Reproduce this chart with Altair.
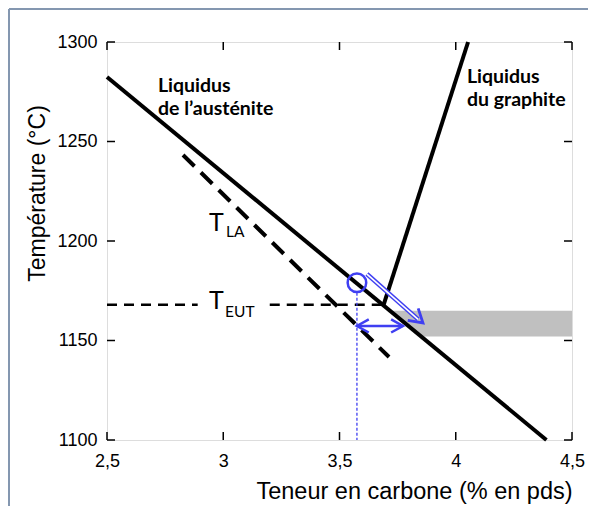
import altair as alt
import pandas as pd

W, H = 465, 398

# ---- data ----
x_ticks = [2.5, 3.0, 3.5, 4.0, 4.5]
y_ticks = [1100, 1150, 1200, 1250, 1300]

aus_x = [2.5, 4.39]          # liquidus de l'austénite
aus_y = [1282.4, 1100.0]
gra_x = [3.69, 4.053]        # liquidus du graphite
gra_y = [1168.0, 1300.0]
tla_x = [2.827, 3.713]       # T_LA dashed line
tla_y = [1243.2, 1141.7]
teut_seg1 = [2.5, 2.89]      # T_EUT dashed line, left part
teut_seg2 = [3.2, 3.69]      # T_EUT dashed line, right part
teut_y = 1168.0

band_y = [1152.0, 1165.0]    # grey band (right of the liquidus)
band_xl = [3.851, 3.716]
band_xr = [4.5, 4.5]

circ_x, circ_y = 3.575, 1179.0
vdot_x = [3.575, 3.575]
vdot_y = [1174.0, 1100.0]
diag_x = [3.618, 3.838]
diag_y = [1183.4, 1160.6]
diag_tip = (3.859, 1158.8)
harr_x = [3.575, 3.773]
harr_y = 1157.3

blue = "#3f3ff2"

xs = alt.Scale(domain=[2.5, 4.5], nice=False, zero=False)
ys = alt.Scale(domain=[1100, 1300], nice=False, zero=False)
label_expr = "replace(toString(datum.value), '.', ',')"
xaxis = alt.Axis(values=x_ticks, labelExpr=label_expr, title="Teneur en carbone (% en pds)",
                 domain=False, ticks=False, grid=False, labelFont="Liberation Sans",
                 labelFontSize=18, labelColor="black", labelPadding=12,
                 titleFont="Liberation Sans", titleFontSize=23.5, titleFontWeight="normal",
                 titleColor="black", titleX=307, titleY=58, titleBaseline="alphabetic",
                 titleAlign="center", labelFlush=False)
yaxis = alt.Axis(values=y_ticks, labelExpr="toString(datum.value)", title="Température (°C)",
                 domain=False, ticks=False,
                 grid=False, labelFont="Liberation Sans", labelFontSize=18,
                 labelColor="black", labelPadding=10, titleFont="Liberation Sans",
                 titleFontSize=23, titleFontWeight="normal", titleColor="black",
                 titleX=-70, titleY=151, titleBaseline="middle", titleAlign="center",
                 titleAngle=-90, labelFlush=False)


def X(f):
    return alt.X(f, type="quantitative", scale=xs, axis=xaxis)


def Y(f):
    return alt.Y(f, type="quantitative", scale=ys, axis=yaxis)


def line_df(xv, yv):
    return pd.DataFrame({"x": xv, "y": yv, "o": list(range(len(xv)))})


band = alt.Chart(pd.DataFrame({"y": band_y, "x": band_xl, "x2": band_xr})).mark_area(
    orient="horizontal", color="#c0c0c0").encode(y=Y("y"), x=X("x"), x2="x2")

aus = alt.Chart(line_df(aus_x, aus_y)).mark_line(color="black", strokeWidth=4).encode(
    x=X("x"), y=Y("y"), order="o")
gra = alt.Chart(line_df(gra_x, gra_y)).mark_line(color="black", strokeWidth=4).encode(
    x=X("x"), y=Y("y"), order="o")
tla = alt.Chart(line_df(tla_x, tla_y)).mark_line(color="black", strokeWidth=4,
                                                 strokeDash=[16, 9]).encode(
    x=X("x"), y=Y("y"), order="o")
teut1 = alt.Chart(line_df(teut_seg1, [teut_y, teut_y])).mark_line(
    color="black", strokeWidth=2.5, strokeDash=[10, 7]).encode(x=X("x"), y=Y("y"), order="o")
teut2 = alt.Chart(line_df(teut_seg2, [teut_y, teut_y])).mark_line(
    color="black", strokeWidth=2.5, strokeDash=[10, 7]).encode(x=X("x"), y=Y("y"), order="o")

vdot = alt.Chart(line_df(vdot_x, vdot_y)).mark_line(color=blue, strokeWidth=1.3,
                                                    strokeDash=[3, 2]).encode(
    x=X("x"), y=Y("y"), order="o")
circle = alt.Chart(pd.DataFrame({"x": [circ_x], "y": [circ_y]})).mark_point(
    shape="circle", size=345, filled=False, color=blue, strokeWidth=2.5, opacity=1).encode(
    x=X("x"), y=Y("y"))
diag_outer = alt.Chart(line_df(diag_x, diag_y)).mark_line(color=blue, strokeWidth=4.5).encode(
    x=X("x"), y=Y("y"), order="o")
diag_inner = alt.Chart(line_df(diag_x, diag_y)).mark_line(color="white", strokeWidth=1.6).encode(
    x=X("x"), y=Y("y"), order="o")
diag_head = alt.Chart(pd.DataFrame({"x": [diag_tip[0]], "y": [diag_tip[1]]})).mark_point(
    shape="M-1,-0.6L0,0L-1,0.6", size=700, angle=41, filled=False, color=blue,
    strokeWidth=2.8, opacity=1).encode(x=X("x"), y=Y("y"))
harr = alt.Chart(line_df(harr_x, [harr_y, harr_y])).mark_line(color=blue, strokeWidth=2.5).encode(
    x=X("x"), y=Y("y"), order="o")
harr_heads = alt.Chart(pd.DataFrame({"x": harr_x, "y": [harr_y, harr_y], "a": [180, 0]})).mark_point(
    shape="M-1,-0.55L0,0L-1,0.55", size=560, filled=False, color=blue,
    strokeWidth=2.5, opacity=1).encode(x=X("x"), y=Y("y"), angle=alt.Angle("a:Q", scale=None))

labels_bold = pd.DataFrame({
    "x": [2.719, 2.719, 4.048, 4.048],
    "y": [1274.9, 1263.3, 1279.4, 1267.8],
    "t": ["Liquidus", "de l\u2019austénite", "Liquidus", "du graphite"],
})
txt_bold = alt.Chart(labels_bold).mark_text(font="Lato", fontWeight="bold", fontSize=19.5,
                                            align="left", baseline="alphabetic",
                                            color="black").encode(x=X("x"), y=Y("y"), text="t")
big_T = pd.DataFrame({"x": [2.939, 2.939], "y": [1205.0, 1165.8], "t": ["T", "T"]})
txt_T = alt.Chart(big_T).mark_text(font="Lato", fontSize=25, align="left",
                                   baseline="alphabetic", color="black").encode(
    x=X("x"), y=Y("y"), text="t")
subs = pd.DataFrame({"x": [3.012, 3.008], "y": [1202.0, 1161.8], "t": ["LA", "EUT"]})
txt_sub = alt.Chart(subs).mark_text(font="Lato", fontSize=15.5, align="left",
                                    baseline="alphabetic", color="black").encode(
    x=X("x"), y=Y("y"), text="t")

# inward ticks on all four sides
xt = pd.DataFrame({"v": x_ticks})
yt = pd.DataFrame({"v": y_ticks})
tk = dict(color="black", strokeWidth=1.5)
t_bottom = alt.Chart(xt).mark_rule(**tk).encode(x=X("v"), y=alt.value(H), y2=alt.value(H - 8))
t_top = alt.Chart(xt).mark_rule(**tk).encode(x=X("v"), y=alt.value(0), y2=alt.value(8))
t_left = alt.Chart(yt).mark_rule(**tk).encode(y=Y("v"), x=alt.value(0), x2=alt.value(8))
t_right = alt.Chart(yt).mark_rule(**tk).encode(y=Y("v"), x=alt.value(W), x2=alt.value(W - 8))

# outer frame of the figure (left and top edges)
frame_l = alt.Chart(xt).mark_rule(color="#8497b0", strokeWidth=2).encode(
    x=alt.value(-98), y=alt.value(-33), y2=alt.value(H + 70))
frame_t = alt.Chart(xt).mark_rule(color="#8497b0", strokeWidth=2).encode(
    y=alt.value(-33), x=alt.value(-98), x2=alt.value(W + 20))

chart = alt.layer(
    band, aus, gra, tla, teut1, teut2, vdot, diag_outer, diag_inner, diag_head,
    harr, harr_heads, circle, txt_bold, txt_T, txt_sub,
    t_bottom, t_top, t_left, t_right, frame_l, frame_t,
).properties(
    width=W, height=H,
    autosize=alt.AutoSizeParams(type="none"),
    padding={"left": 99, "top": 34, "right": 16, "bottom": 66},
).configure_view(stroke="black", strokeWidth=1.5).configure(background="white")

chart.save("out.html", embed_options={"renderer": "svg", "actions": False})
